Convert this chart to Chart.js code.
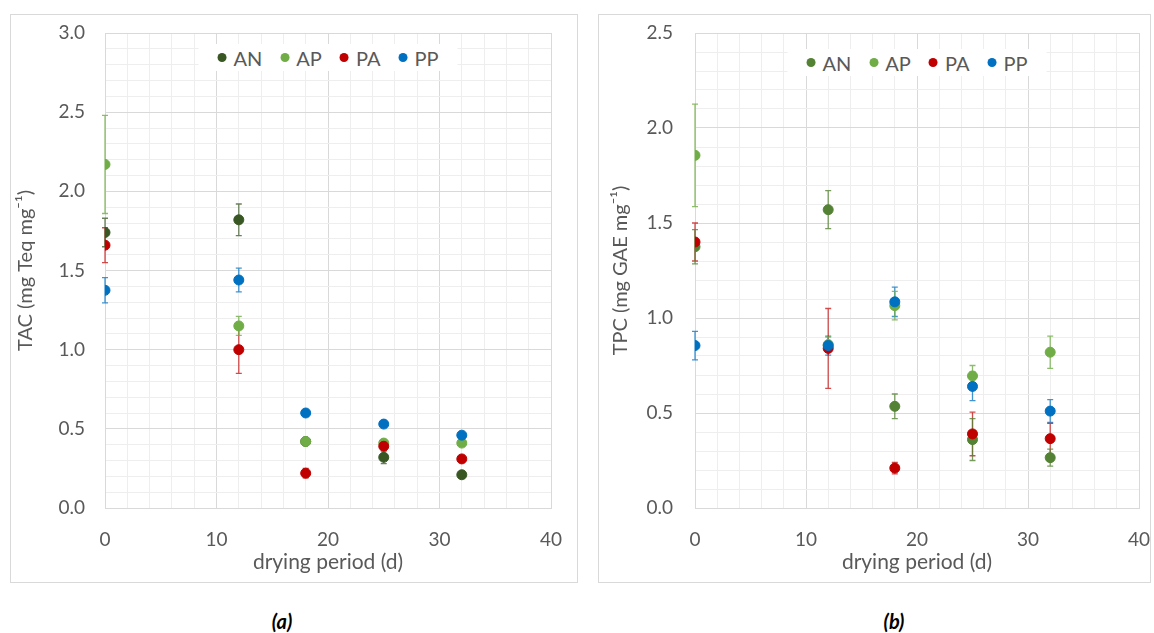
<!DOCTYPE html>
<html>
<head>
<meta charset="utf-8">
<script src="https://cdn.jsdelivr.net/npm/chart.js@4.4.1/dist/chart.umd.min.js"></script>
<style>
  body { margin: 0; background: #fff; width: 1154px; height: 633px; overflow: hidden; font-family: Lato, sans-serif; }
  .panel { position: absolute; border: 1px solid #d9d9d9; box-sizing: border-box; }
  .inner { position: absolute; left: 0; top: 0; right: 0; bottom: 0; }
  .legend { position: absolute; transform: translateX(-50%); background: #fff; display: flex; align-items: center;
    height: 27px; padding: 0 10px; white-space: nowrap; color: #595959; font-size: 20px; }
  .legend .item { display: flex; align-items: center; margin: 0 9px; }
  .legend i { width: 9px; height: 9px; border-radius: 50%; margin-right: 7px; display: inline-block; }
  .caption { position: absolute; top: 609px; font-weight: bold; font-style: italic; font-size: 20px; transform: translateX(-50%); color: #000; }
</style>
</head>
<body>
<div class="panel" style="left:10px;top:14px;width:568px;height:569px"><div class="inner" id="wrapA"><canvas id="chartA"></canvas></div></div>
<div class="panel" style="left:598px;top:14px;width:553px;height:569px"><div class="inner" id="wrapB"><canvas id="chartB"></canvas></div></div>
<div class="caption" style="left:282px">(a)</div>
<div class="caption" style="left:894px">(b)</div>
<script>
// drying period (days)
const days = [0, 12, 18, 25, 32]
const seriesNames = ['AN', 'AP', 'PA', 'PP']

// TAC (mg Teq mg-1)
const tacAN = [1.74, 1.82, 0.42, 0.32, 0.21]
const tacAP = [2.17, 1.15, 0.42, 0.41, 0.41]
const tacPA = [1.66, 1.00, 0.22, 0.39, 0.31]
const tacPP = [1.375, 1.44, 0.60, 0.53, 0.46]
const tacANErr = [0.09, 0.10, 0.02, 0.04, 0.015]
const tacAPErr = [0.31, 0.06, 0.02, 0.02, 0.02]
const tacPAErr = [0.11, 0.15, 0.03, 0.02, 0.02]
const tacPPErr = [0.08, 0.075, 0.01, 0.01, 0.01]

// TPC (mg GAE mg-1)
const tpcAN = [1.375, 1.57, 0.535, 0.36, 0.265]
const tpcAP = [1.856, 0.86, 1.065, 0.695, 0.82]
const tpcPA = [1.40, 0.84, 0.21, 0.39, 0.365]
const tpcPP = [0.855, 0.855, 1.085, 0.64, 0.51]
const tpcANErr = [0.09, 0.10, 0.065, 0.11, 0.045]
const tpcAPErr = [0.27, 0.04, 0.075, 0.055, 0.085]
const tpcPAErr = [0.10, 0.21, 0.03, 0.115, 0.08]
const tpcPPErr = [0.075, 0.05, 0.077, 0.075, 0.06]

const textColor = '#595959'
const font = 'Lato, sans-serif'

const isMajor = (v, step) => Math.abs(v / step - Math.round(v / step)) < 1e-6

const errorBars = {
  id: 'errorBars',
  beforeDatasetsDraw(chart) {
    const { ctx } = chart
    const yScale = chart.scales.y
    for (let i = chart.data.datasets.length - 1; i >= 0; i--) {
      const ds = chart.data.datasets[i]
      const meta = chart.getDatasetMeta(i)
      ctx.save()
      ctx.strokeStyle = ds.errorColor
      ctx.lineWidth = 1.3
      meta.data.forEach((pt, j) => {
        const e = ds.errors[j]
        if (!e) return
        const v = ds.data[j].y
        const top = yScale.getPixelForValue(v + e)
        const bot = yScale.getPixelForValue(v - e)
        ctx.beginPath()
        ctx.moveTo(pt.x, top); ctx.lineTo(pt.x, bot)
        ctx.moveTo(pt.x - 3, top); ctx.lineTo(pt.x + 3, top)
        ctx.moveTo(pt.x - 3, bot); ctx.lineTo(pt.x + 3, bot)
        ctx.stroke()
      })
      ctx.restore()
    }
  },
}

function htmlLegend(wrapId, offsetTop) {
  return {
    id: 'htmlLegend',
    afterLayout(chart) {
      const wrap = document.getElementById(wrapId)
      let box = wrap.querySelector('.legend')
      if (!box) {
        box = document.createElement('div')
        box.className = 'legend'
        wrap.appendChild(box)
      }
      box.innerHTML = ''
      chart.data.datasets.forEach((ds) => {
        const item = document.createElement('span')
        item.className = 'item'
        const dot = document.createElement('i')
        dot.style.background = ds.backgroundColor
        item.appendChild(dot)
        item.appendChild(document.createTextNode(ds.label))
        box.appendChild(item)
      })
      const area = chart.chartArea
      box.style.left = `${(area.left + area.right) / 2}px`
      box.style.top = `${area.top + offsetTop}px`
    },
  }
}

function makeDataset(label, values, errors, color, errorColor, order) {
  return {
    label,
    data: days.map((d, i) => ({ x: d, y: values[i] })),
    errors,
    errorColor,
    backgroundColor: color,
    borderColor: color,
    borderWidth: 1,
    pointRadius: 5,
    pointHoverRadius: 5,
    order,
  }
}

function makeChart(canvasId, wrapId, opts) {
  return new Chart(document.getElementById(canvasId), {
    type: 'scatter',
    data: { datasets: opts.datasets },
    plugins: [errorBars, htmlLegend(wrapId, opts.legendTop)],
    options: {
      responsive: true,
      maintainAspectRatio: false,
      animation: false,
      layout: { padding: { top: 18, right: opts.padRight, left: 0, bottom: 0 } },
      plugins: { legend: { display: false }, tooltip: { enabled: false } },
      scales: {
        x: {
          type: 'linear',
          min: 0,
          max: 40,
          afterFit: (s) => {
            s.height = 74
            s.paddingLeft = 0
            s.paddingRight = 0
          },
          border: { color: '#d9d9d9' },
          grid: {
            drawTicks: false,
            color: (c) => (isMajor(c.tick.value, 10) ? '#d9d9d9' : '#eeeeee'),
          },
          ticks: {
            stepSize: 2,
            autoSkip: false,
            maxRotation: 0,
            maxTicksLimit: 100,
            padding: 20,
            color: textColor,
            font: { family: font, size: 19 },
            callback: (v) => (isMajor(v, 10) ? String(v) : ''),
          },
          title: {
            display: true,
            text: 'drying period (d)',
            color: textColor,
            font: { family: font, size: 21 },
            padding: { top: 0, bottom: 7 },
          },
        },
        y: {
          min: 0,
          max: opts.yMax,
          afterFit: (s) => {
            s.width = opts.yWidth
            s.paddingTop = 0
            s.paddingBottom = 0
          },
          border: { color: '#d9d9d9' },
          grid: {
            drawTicks: false,
            color: (c) => (isMajor(c.tick.value, 0.5) ? '#d9d9d9' : '#eeeeee'),
          },
          ticks: {
            stepSize: 0.1,
            autoSkip: false,
            maxTicksLimit: 100,
            padding: opts.tickPad,
            color: textColor,
            font: { family: font, size: 19 },
            callback: (v) => (isMajor(v, 0.5) ? v.toFixed(1) : ''),
          },
          title: {
            display: true,
            text: opts.yTitle,
            color: textColor,
            font: { family: font, size: 20 },
            padding: { top: opts.titlePad, bottom: 0 },
          },
        },
      },
    },
  })
}

makeChart('chartA', 'wrapA', {
  yMax: 3,
  yWidth: 94,
  padRight: 26,
  tickPad: 20,
  titlePad: 3,
  legendTop: 11,
  yTitle: 'TAC (mg Teq mg⁻¹)',
  datasets: [
    makeDataset(seriesNames[0], tacAN, tacANErr, '#385723', 'rgba(56,87,35,0.75)', 4),
    makeDataset(seriesNames[1], tacAP, tacAPErr, '#70ad47', 'rgba(112,173,71,0.8)', 3),
    makeDataset(seriesNames[2], tacPA, tacPAErr, '#c00000', 'rgba(192,0,0,0.7)', 2),
    makeDataset(seriesNames[3], tacPP, tacPPErr, '#0070c0', 'rgba(0,112,192,0.75)', 1),
  ],
})

makeChart('chartB', 'wrapB', {
  yMax: 2.5,
  yWidth: 96,
  padRight: 11,
  tickPad: 22,
  titlePad: 10,
  legendTop: 16,
  yTitle: 'TPC (mg GAE mg⁻¹)',
  datasets: [
    makeDataset(seriesNames[0], tpcAN, tpcANErr, '#548235', 'rgba(84,130,53,0.8)', 4),
    makeDataset(seriesNames[1], tpcAP, tpcAPErr, '#70ad47', 'rgba(112,173,71,0.8)', 3),
    makeDataset(seriesNames[2], tpcPA, tpcPAErr, '#c00000', 'rgba(192,0,0,0.7)', 2),
    makeDataset(seriesNames[3], tpcPP, tpcPPErr, '#0070c0', 'rgba(0,112,192,0.75)', 1),
  ],
})
</script>
</body>
</html>
